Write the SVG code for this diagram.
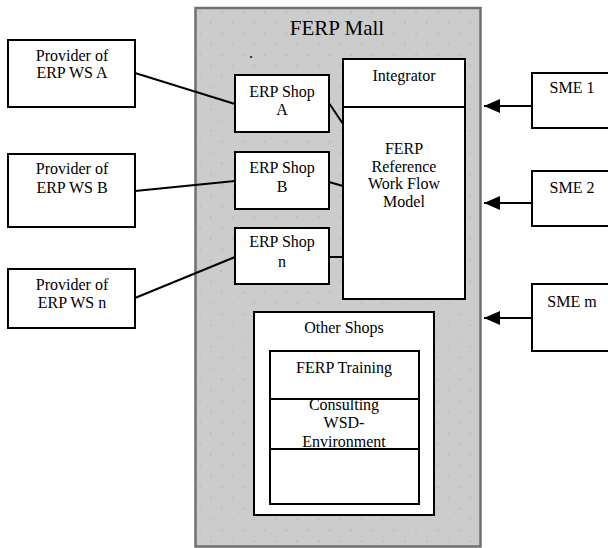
<svg xmlns="http://www.w3.org/2000/svg" width="608" height="548" viewBox="0 0 608 548">
<style>
.box{fill:#fff;stroke:#000;stroke-width:2}
.t{font-family:"Liberation Serif","Times New Roman",serif;font-size:16px;fill:#000;text-anchor:middle}
.c{stroke:#000;stroke-width:2;fill:none}
</style>
<defs>
<pattern id="dots" x="195" y="8" width="21.6" height="21.6" patternUnits="userSpaceOnUse">
<circle cx="5" cy="4" r="0.9" fill="#b4b4b4"/>
<circle cx="15.8" cy="14.8" r="0.9" fill="#b4b4b4"/>
</pattern>
<marker id="arr" viewBox="0 0 16 14" refX="16" refY="7" markerWidth="16" markerHeight="14" markerUnits="userSpaceOnUse" orient="auto">
<path d="M0,0 L16,7 L0,14 Z" fill="#000"/>
</marker>
</defs>
<g id="mall">
<rect x="195.5" y="8" width="285" height="538.5" fill="#cccccc" stroke="#707070" stroke-width="2.5"/>
<rect x="197" y="9.5" width="282" height="535.5" fill="url(#dots)"/>
<text class="t" x="337" y="35" style="font-size:21px">FERP Mall</text>
<text class="t" x="251" y="58">.</text>
</g>
<g id="providerA">
<rect class="box" x="8" y="40" width="127" height="67"/>
<text class="t" x="72" y="61">Provider of</text>
<text class="t" x="72" y="78">ERP WS A</text>
</g>
<g id="providerB">
<rect class="box" x="8" y="154" width="127" height="73"/>
<text class="t" x="72" y="174">Provider of</text>
<text class="t" x="72" y="193">ERP WS B</text>
</g>
<g id="providerN">
<rect class="box" x="8" y="269" width="127" height="59"/>
<text class="t" x="72" y="290">Provider of</text>
<text class="t" x="72" y="308">ERP WS n</text>
</g>
<g id="shopA">
<rect class="box" x="235" y="75" width="94" height="57"/>
<text class="t" x="282" y="97">ERP Shop</text>
<text class="t" x="282" y="115">A</text>
</g>
<g id="shopB">
<rect class="box" x="235" y="152" width="94" height="57"/>
<text class="t" x="282" y="173">ERP Shop</text>
<text class="t" x="282" y="192">B</text>
</g>
<g id="shopN">
<rect class="box" x="235" y="228" width="94" height="56"/>
<text class="t" x="282" y="247">ERP Shop</text>
<text class="t" x="282" y="267">n</text>
</g>
<g id="integrator">
<rect class="box" x="343" y="59" width="122" height="240"/>
<line class="c" x1="343" y1="107" x2="465" y2="107"/>
<text class="t" x="404" y="81">Integrator</text>
<text class="t" x="404" y="154">FERP</text>
<text class="t" x="404" y="172">Reference</text>
<text class="t" x="404" y="189">Work Flow</text>
<text class="t" x="404" y="207">Model</text>
</g>
<g id="otherShops">
<rect class="box" x="254" y="312" width="180" height="203"/>
<text class="t" x="344" y="333">Other Shops</text>
<rect class="box" x="270" y="351" width="149" height="153"/>
<line class="c" x1="270" y1="399" x2="419" y2="399"/>
<line class="c" x1="270" y1="449" x2="419" y2="449"/>
<text class="t" x="344" y="373">FERP Training</text>
<text class="t" x="344" y="410">Consulting</text>
<text class="t" x="344" y="428">WSD-</text>
<text class="t" x="344" y="447">Environment</text>
</g>
<g id="sme1">
<rect class="box" x="532" y="73" width="100" height="55"/>
<text class="t" x="572" y="93">SME 1</text>
</g>
<g id="sme2">
<rect class="box" x="532" y="171" width="100" height="55"/>
<text class="t" x="572" y="193">SME 2</text>
</g>
<g id="smeM">
<rect class="box" x="532" y="284" width="100" height="67"/>
<text class="t" x="572" y="307">SME m</text>
</g>
<g id="connectors">
<line class="c" x1="135" y1="73" x2="235" y2="104"/>
<line class="c" x1="329" y1="103" x2="343" y2="124"/>
<line class="c" x1="135" y1="191" x2="235" y2="181"/>
<line class="c" x1="329" y1="182" x2="343" y2="186"/>
<line class="c" x1="135" y1="298" x2="235" y2="257"/>
<line class="c" x1="329" y1="257" x2="343" y2="257"/>
<line class="c" x1="532" y1="106" x2="484" y2="106" marker-end="url(#arr)"/>
<line class="c" x1="532" y1="203" x2="484" y2="203" marker-end="url(#arr)"/>
<line class="c" x1="532" y1="318" x2="484" y2="318" marker-end="url(#arr)"/>
</g>
</svg>
